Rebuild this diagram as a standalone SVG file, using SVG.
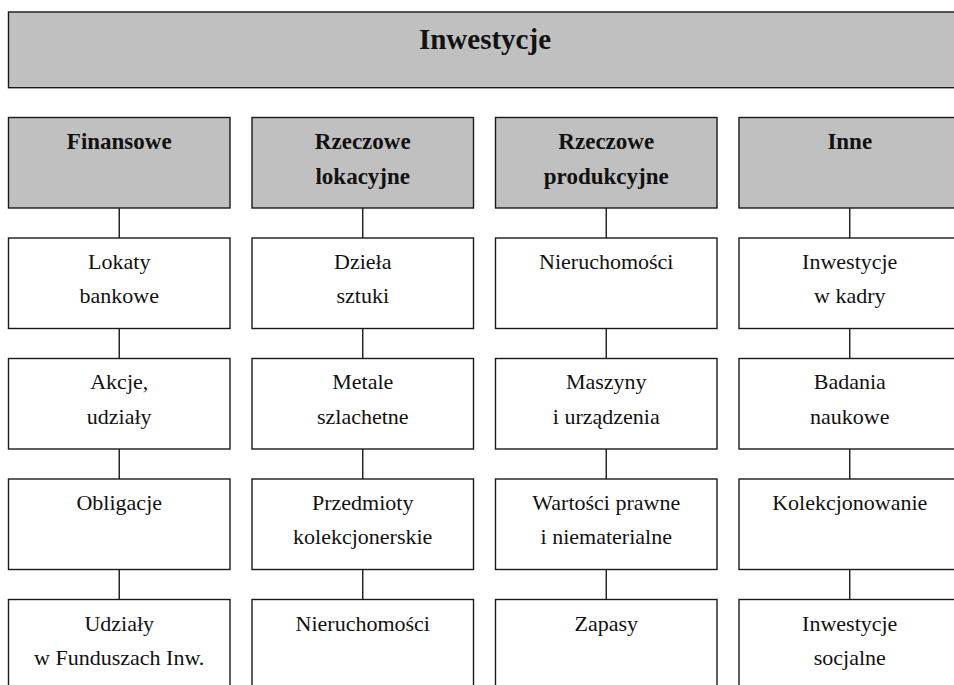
<svg xmlns="http://www.w3.org/2000/svg" width="954" height="685" viewBox="0 0 954 685">
  <style>
    .hdr { fill: #c0c0c0; stroke: #1a1a1a; stroke-width: 1.4; }
    .box { fill: #ffffff; stroke: #1a1a1a; stroke-width: 1.4; }
    .lnk { stroke: #1a1a1a; stroke-width: 1.4; fill: none; }
    text { font-family: "Liberation Serif", "DejaVu Serif", serif; fill: #111; text-anchor: middle; }
    .t { font-size: 29px; font-weight: bold; }
    .h { font-size: 23px; font-weight: bold; }
    .n { font-size: 22px; }
  </style>
  <rect width="954" height="685" fill="#ffffff"/>

  <!-- connectors: vertical links down each column -->
  <g id="connectors">
    <path class="lnk" d="M119.25 208 V238 M119.25 328.5 V358.5 M119.25 449 V479 M119.25 569.5 V599.5"/>
    <path class="lnk" d="M362.75 208 V238 M362.75 328.5 V358.5 M362.75 449 V479 M362.75 569.5 V599.5"/>
    <path class="lnk" d="M606.25 208 V238 M606.25 328.5 V358.5 M606.25 449 V479 M606.25 569.5 V599.5"/>
    <path class="lnk" d="M849.75 208 V238 M849.75 328.5 V358.5 M849.75 449 V479 M849.75 569.5 V599.5"/>
  </g>

  <!-- root -->
  <g id="root">
    <rect class="hdr" x="8.5" y="12" width="953" height="75.7"/>
    <text class="t" x="485" y="48.5">Inwestycje</text>
  </g>

  <!-- column 1: Finansowe -->
  <g id="finansowe">
    <rect class="hdr" x="8.5" y="117.5" width="221.5" height="90.5"/>
    <text class="h" x="119.25" y="148.5">Finansowe</text>
  </g>
  <g id="lokaty">
    <rect class="box" x="8.5" y="238" width="221.5" height="90.5"/>
    <text class="n" x="119.25" y="268.5">Lokaty</text>
    <text class="n" x="119.25" y="303">bankowe</text>
  </g>
  <g id="akcje">
    <rect class="box" x="8.5" y="358.5" width="221.5" height="90.5"/>
    <text class="n" x="119.25" y="389">Akcje,</text>
    <text class="n" x="119.25" y="423.5">udziały</text>
  </g>
  <g id="obligacje">
    <rect class="box" x="8.5" y="479" width="221.5" height="90.5"/>
    <text class="n" x="119.25" y="509.5">Obligacje</text>
  </g>
  <g id="udzialy">
    <rect class="box" x="8.5" y="599.5" width="221.5" height="90.5"/>
    <text class="n" x="119.25" y="630.5">Udziały</text>
    <text class="n" x="119.25" y="665">w Funduszach Inw.</text>
  </g>

  <!-- column 2: Rzeczowe lokacyjne -->
  <g id="rzeczowe-lokacyjne">
    <rect class="hdr" x="252" y="117.5" width="221.5" height="90.5"/>
    <text class="h" x="362.75" y="149">Rzeczowe</text>
    <text class="h" x="362.75" y="184">lokacyjne</text>
  </g>
  <g id="dziela">
    <rect class="box" x="252" y="238" width="221.5" height="90.5"/>
    <text class="n" x="362.75" y="268.5">Dzieła</text>
    <text class="n" x="362.75" y="303">sztuki</text>
  </g>
  <g id="metale">
    <rect class="box" x="252" y="358.5" width="221.5" height="90.5"/>
    <text class="n" x="362.75" y="389">Metale</text>
    <text class="n" x="362.75" y="423.5">szlachetne</text>
  </g>
  <g id="przedmioty">
    <rect class="box" x="252" y="479" width="221.5" height="90.5"/>
    <text class="n" x="362.75" y="509.5">Przedmioty</text>
    <text class="n" x="362.75" y="544">kolekcjonerskie</text>
  </g>
  <g id="nieruchomosci-lok">
    <rect class="box" x="252" y="599.5" width="221.5" height="90.5"/>
    <text class="n" x="362.75" y="630.5">Nieruchomości</text>
  </g>

  <!-- column 3: Rzeczowe produkcyjne -->
  <g id="rzeczowe-produkcyjne">
    <rect class="hdr" x="495.5" y="117.5" width="221.5" height="90.5"/>
    <text class="h" x="606.25" y="149">Rzeczowe</text>
    <text class="h" x="606.25" y="184">produkcyjne</text>
  </g>
  <g id="nieruchomosci-prod">
    <rect class="box" x="495.5" y="238" width="221.5" height="90.5"/>
    <text class="n" x="606.25" y="268.5">Nieruchomości</text>
  </g>
  <g id="maszyny">
    <rect class="box" x="495.5" y="358.5" width="221.5" height="90.5"/>
    <text class="n" x="606.25" y="389">Maszyny</text>
    <text class="n" x="606.25" y="423.5">i urządzenia</text>
  </g>
  <g id="wartosci">
    <rect class="box" x="495.5" y="479" width="221.5" height="90.5"/>
    <text class="n" x="606.25" y="509.5">Wartości prawne</text>
    <text class="n" x="606.25" y="544">i niematerialne</text>
  </g>
  <g id="zapasy">
    <rect class="box" x="495.5" y="599.5" width="221.5" height="90.5"/>
    <text class="n" x="606.25" y="630.5">Zapasy</text>
  </g>

  <!-- column 4: Inne -->
  <g id="inne">
    <rect class="hdr" x="739" y="117.5" width="221.5" height="90.5"/>
    <text class="h" x="849.75" y="148.5">Inne</text>
  </g>
  <g id="kadry">
    <rect class="box" x="739" y="238" width="221.5" height="90.5"/>
    <text class="n" x="849.75" y="268.5">Inwestycje</text>
    <text class="n" x="849.75" y="303">w kadry</text>
  </g>
  <g id="badania">
    <rect class="box" x="739" y="358.5" width="221.5" height="90.5"/>
    <text class="n" x="849.75" y="389">Badania</text>
    <text class="n" x="849.75" y="423.5">naukowe</text>
  </g>
  <g id="kolekcjonowanie">
    <rect class="box" x="739" y="479" width="221.5" height="90.5"/>
    <text class="n" x="849.75" y="509.5">Kolekcjonowanie</text>
  </g>
  <g id="socjalne">
    <rect class="box" x="739" y="599.5" width="221.5" height="90.5"/>
    <text class="n" x="849.75" y="630.5">Inwestycje</text>
    <text class="n" x="849.75" y="665">socjalne</text>
  </g>
</svg>
